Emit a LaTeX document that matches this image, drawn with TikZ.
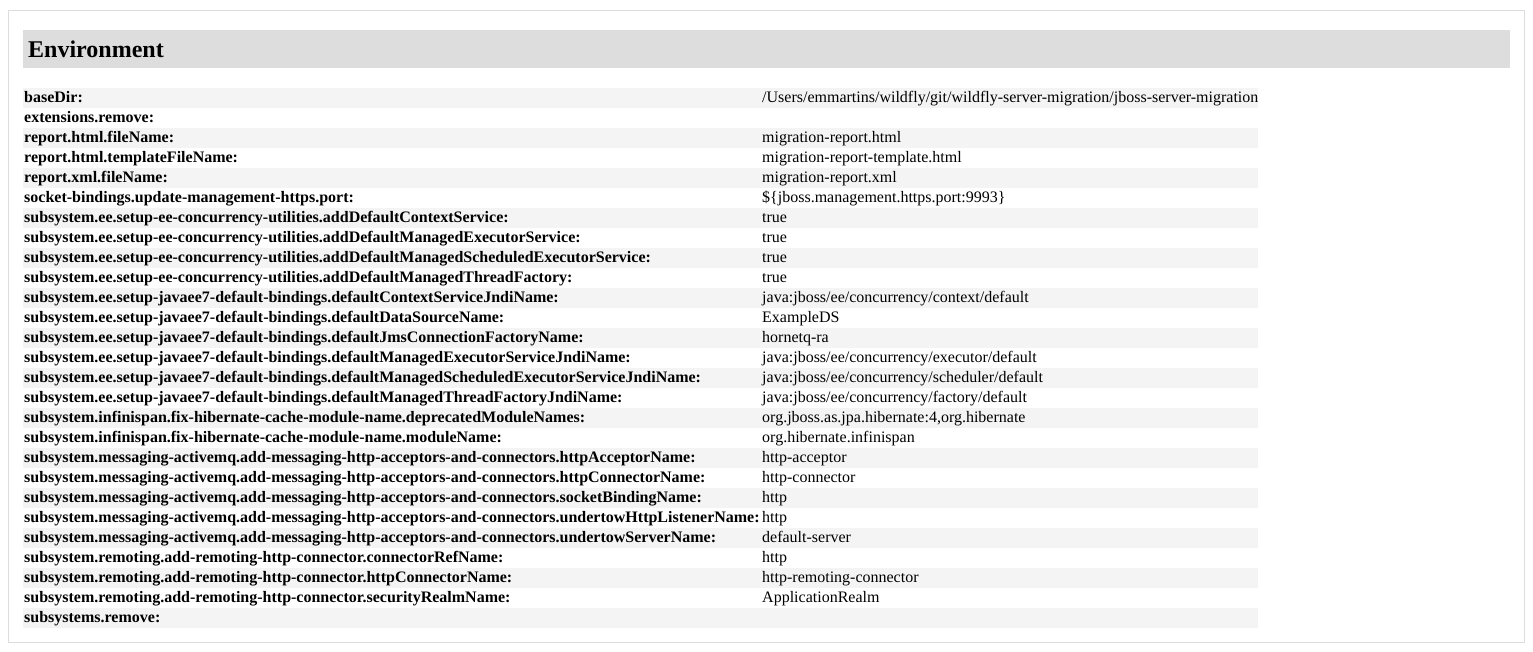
\documentclass[tikz,border=0pt]{standalone}
\usepackage{fontspec}
\setmainfont{Liberation Serif}
\definecolor{hdr}{HTML}{DDDDDD}
\definecolor{rowg}{HTML}{F4F4F4}
\definecolor{frame}{HTML}{DDDDDD}
\tikzset{keytxt/.style={anchor=base west,inner sep=0pt,font=\fontsize{16}{18}\selectfont\bfseries},
valtxt/.style={anchor=base west,inner sep=0pt,font=\fontsize{16}{18}\selectfont}}
\newcommand{\tabrow}[3]{%
  \pgfmathsetmacro{\rt}{88+20*#1}%
  \pgfmathtruncatemacro{\odd}{mod(#1,2)}%
  \ifnum\odd=0 \fill[rowg] (23,\rt) rectangle (1258,\rt+20);\fi
  \node[keytxt] (k#1) at (24,\rt+14.5) {#2};
  \node[valtxt] (v#1) at (762,\rt+14.5) {#3};}
\begin{document}
\begin{tikzpicture}[x=1pt,y=-1pt]
\useasboundingbox (0,0) rectangle (1533,651);
\fill[white] (0,0) rectangle (1533,651);
\draw[frame] (8.5,10.5) rectangle (1524.5,642.5);
\fill[hdr] (23,30) rectangle (1510,68);
\node[anchor=base west,inner sep=0pt,font=\fontsize{24}{27}\selectfont\bfseries] (title) at (28,57) {Environment};
\tabrow{0}{baseDir:}{/Users/emmartins/wildfly/git/wildfly-server-migration/jboss-server-migration}
\tabrow{1}{extensions.remove:}{}
\tabrow{2}{report.html.fileName:}{migration-report.html}
\tabrow{3}{report.html.templateFileName:}{migration-report-template.html}
\tabrow{4}{report.xml.fileName:}{migration-report.xml}
\tabrow{5}{socket-bindings.update-management-https.port:}{\$\{jboss.management.https.port:9993\}}
\tabrow{6}{subsystem.ee.setup-ee-concurrency-utilities.addDefaultContextService:}{true}
\tabrow{7}{subsystem.ee.setup-ee-concurrency-utilities.addDefaultManagedExecutorService:}{true}
\tabrow{8}{subsystem.ee.setup-ee-concurrency-utilities.addDefaultManagedScheduledExecutorService:}{true}
\tabrow{9}{subsystem.ee.setup-ee-concurrency-utilities.addDefaultManagedThreadFactory:}{true}
\tabrow{10}{subsystem.ee.setup-javaee7-default-bindings.defaultContextServiceJndiName:}{java:jboss/ee/concurrency/context/default}
\tabrow{11}{subsystem.ee.setup-javaee7-default-bindings.defaultDataSourceName:}{ExampleDS}
\tabrow{12}{subsystem.ee.setup-javaee7-default-bindings.defaultJmsConnectionFactoryName:}{hornetq-ra}
\tabrow{13}{subsystem.ee.setup-javaee7-default-bindings.defaultManagedExecutorServiceJndiName:}{java:jboss/ee/concurrency/executor/default}
\tabrow{14}{subsystem.ee.setup-javaee7-default-bindings.defaultManagedScheduledExecutorServiceJndiName:}{java:jboss/ee/concurrency/scheduler/default}
\tabrow{15}{subsystem.ee.setup-javaee7-default-bindings.defaultManagedThreadFactoryJndiName:}{java:jboss/ee/concurrency/factory/default}
\tabrow{16}{subsystem.infinispan.fix-hibernate-cache-module-name.deprecatedModuleNames:}{org.jboss.as.jpa.hibernate:4,org.hibernate}
\tabrow{17}{subsystem.infinispan.fix-hibernate-cache-module-name.moduleName:}{org.hibernate.infinispan}
\tabrow{18}{subsystem.messaging-activemq.add-messaging-http-acceptors-and-connectors.httpAcceptorName:}{http-acceptor}
\tabrow{19}{subsystem.messaging-activemq.add-messaging-http-acceptors-and-connectors.httpConnectorName:}{http-connector}
\tabrow{20}{subsystem.messaging-activemq.add-messaging-http-acceptors-and-connectors.socketBindingName:}{http}
\tabrow{21}{subsystem.messaging-activemq.add-messaging-http-acceptors-and-connectors.undertowHttpListenerName:}{http}
\tabrow{22}{subsystem.messaging-activemq.add-messaging-http-acceptors-and-connectors.undertowServerName:}{default-server}
\tabrow{23}{subsystem.remoting.add-remoting-http-connector.connectorRefName:}{http}
\tabrow{24}{subsystem.remoting.add-remoting-http-connector.httpConnectorName:}{http-remoting-connector}
\tabrow{25}{subsystem.remoting.add-remoting-http-connector.securityRealmName:}{ApplicationRealm}
\tabrow{26}{subsystems.remove:}{}
\end{tikzpicture}
\end{document}
